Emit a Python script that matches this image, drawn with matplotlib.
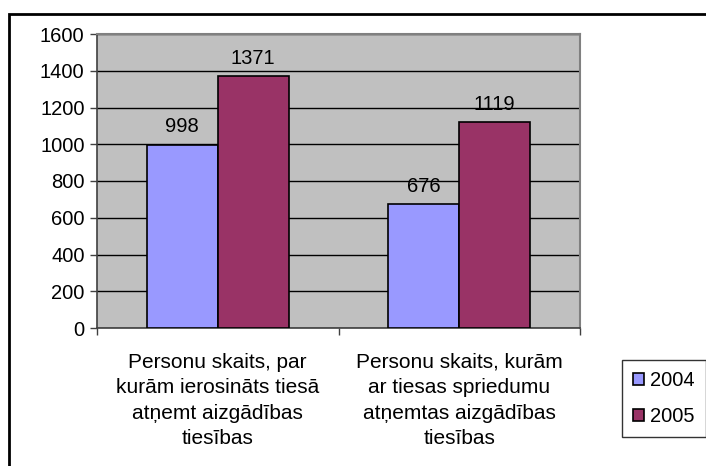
import matplotlib
matplotlib.use("Agg")
import matplotlib.pyplot as plt
from matplotlib.patches import Rectangle
import numpy as np

plt.rcParams['font.family'] = ['Liberation Sans', 'DejaVu Sans']

categories = ["Personu skaits, par\nkurām ierosināts tiesā\natņemt aizgādības\ntiesības",
              "Personu skaits, kurām\nar tiesas spriedumu\natņemtas aizgādības\ntiesības"]
series_names = ["2004", "2005"]
values_2004 = [998, 676]
values_2005 = [1371, 1119]
y_ticks = [0, 200, 400, 600, 800, 1000, 1200, 1400, 1600]
colors = ["#9999FF", "#993366"]

W, H = 706, 466
fig = plt.figure(figsize=(W/100, H/100), dpi=100)
ax = fig.add_axes([97/W, 1-328/H, (580-97)/W, (328-34)/H])
ax.set_facecolor("#C0C0C0")

x = np.arange(len(categories))
w = 1/3.4
for i, (vals, c) in enumerate(zip([values_2004, values_2005], colors)):
    pos = x + (i - 0.5) * w
    ax.bar(pos, vals, width=w, color=c, edgecolor="black", linewidth=1.2,
           label=series_names[i], zorder=3)
    for p, v in zip(pos, vals):
        ax.text(p, v + 45, str(v), ha="center", va="bottom", fontsize=14.5, zorder=4)

ax.set_xlim(-0.5, 1.5)
ax.set_ylim(0, 1600)
ax.set_yticks(y_ticks)
ax.set_yticklabels([str(t) for t in y_ticks], fontsize=14.5)
ax.yaxis.grid(True, color="black", linewidth=1.0, zorder=1)
ax.set_axisbelow(True)

ax.set_xticks(x)
ax.set_xticklabels(categories, fontsize=15, linespacing=1.42, va="top")
ax.tick_params(axis="x", length=0, pad=18)
ax.set_xticks([-0.5, 0.5, 1.5], minor=True)
ax.tick_params(axis="x", which="minor", length=5, color="#404040", width=1)
ax.tick_params(axis="y", length=5, color="#404040", width=1, pad=4)

for s in ["top", "right"]:
    ax.spines[s].set_color("#808080")
    ax.spines[s].set_linewidth(1.5)
for s in ["left", "bottom"]:
    ax.spines[s].set_color("#404040")
    ax.spines[s].set_linewidth(1.2)

leg = fig.legend(loc="upper left", bbox_to_anchor=(622/W, 1-360/H), fontsize=14.5,
                 frameon=True, fancybox=False, edgecolor="black", handlelength=0.55,
                 handleheight=0.55, handletextpad=0.3, borderpad=0.55, labelspacing=0.85,
                 borderaxespad=0)
leg.get_frame().set_linewidth(1.0)
for h in leg.legend_handles:
    h.set_linewidth(1.2)

fig.patches.append(Rectangle((9/W, -0.1), 1.2, 1-14/H + 0.1, transform=fig.transFigure,
                             fill=False, edgecolor="black", linewidth=2, figure=fig))

fig.savefig("out.png", dpi=100)
